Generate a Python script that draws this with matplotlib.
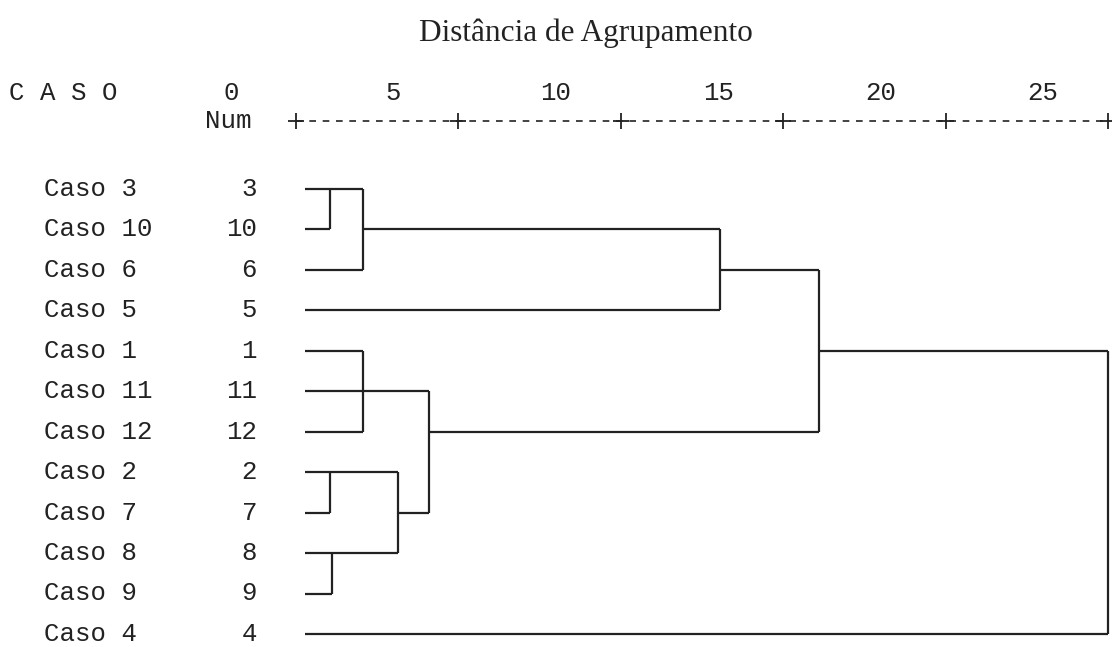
import matplotlib
matplotlib.use("Agg")
import matplotlib.pyplot as plt

# leaves, top to bottom
labels = ["Caso 3", "Caso 10", "Caso 6", "Caso 5", "Caso 1", "Caso 11",
          "Caso 12", "Caso 2", "Caso 7", "Caso 8", "Caso 9", "Caso 4"]
nums = ["3", "10", "6", "5", "1", "11", "12", "2", "7", "8", "9", "4"]

# merges: (children ids, height, row where the new branch leaves)
# leaves are 0..11, each merge gets the next id
merges = [
    ((0, 1), 1.05, 0),
    ((7, 8), 1.05, 7),
    ((9, 10), 1.1, 9),
    ((12, 2), 2.05, 1),
    ((4, 5, 6), 2.05, 5),
    ((13, 14), 3.15, 8),
    ((16, 17), 4.1, 6),
    ((15, 3), 13.05, 2),
    ((19, 18), 16.1, 4),
    ((20, 11), 25.0, 7),
]

ticks = [0, 5, 10, 15, 20, 25]
title = "Distância de Agrupamento"

leaf_x = 0.28
mono = "Liberation Mono"
ink = "#222222"
fs = 18.5

fig = plt.figure(figsize=(11.12, 6.47), dpi=100)
ax = fig.add_axes([0, 0, 1, 1])
# map pixels: x 296px -> 0, 32.48 px per unit; row 0 at 189px, 40.45 px per row
ax.set_xlim(-296 / 32.48, (1112 - 296) / 32.48)
ax.set_ylim((647 - 189) / 40.45, -189 / 40.45)
ax.axis("off")

# node positions: id -> (height, row)
nodes = {i: (leaf_x, i) for i in range(len(labels))}
nid = len(labels)
for children, h, row in merges:
    rows = [nodes[c][1] for c in children]
    for c in children:
        x0, r = nodes[c]
        ax.plot([x0, h], [r, r], color=ink, lw=1.6, solid_capstyle="butt")
    ax.plot([h, h], [min(rows), max(rows)], color=ink, lw=1.6,
            solid_capstyle="butt")
    nodes[nid] = (h, row)
    nid += 1

for i, (lab, n) in enumerate(zip(labels, nums)):
    ax.text(-7.75, i, lab, family=mono, fontsize=fs, color=ink,
            va="center", ha="left")
    ax.text(-1.2, i, n, family=mono, fontsize=fs, color=ink,
            va="center", ha="right")

# header
axis_row = -1.68
ax.text(-8.85, -2.37, "C A S O", family=mono, fontsize=fs, color=ink,
        va="center", ha="left")
ax.text(-2.1, axis_row, "Num", family=mono, fontsize=fs, color=ink,
        va="center", ha="center")
for t in ticks:
    ax.text(t - 2.0, -2.37, str(t), family=mono, fontsize=fs, color=ink,
            va="center", ha="center")
ax.plot([ticks[0], ticks[-1]], [axis_row, axis_row], color=ink, lw=1.2,
        ls=(0, (4, 4)))
ax.plot(ticks, [axis_row] * len(ticks), ls="none", marker="+", ms=11,
        mew=1.3, color=ink)

ax.text(8.93, -3.86, title, family="Liberation Serif", fontsize=22.5,
        color=ink, va="center", ha="center")

fig.savefig("out.png", dpi=100, facecolor="white")
